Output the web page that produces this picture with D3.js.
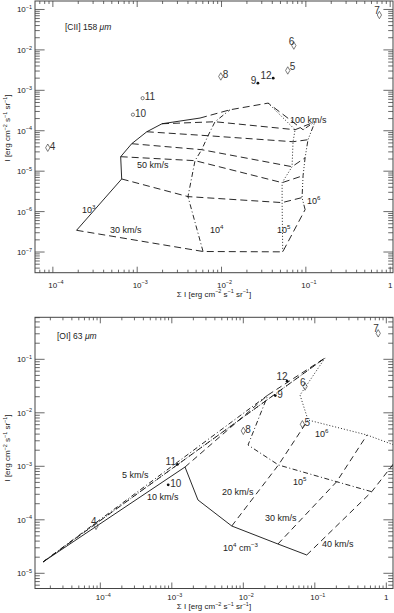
<!DOCTYPE html>
<html><head><meta charset="utf-8">
<script src="https://cdn.jsdelivr.net/npm/d3@7"></script>
<style>body{margin:0;background:#fff}svg{display:block}text{font-family:"Liberation Sans",Arial,Helvetica,sans-serif}</style>
</head><body>
<svg id="c" width="394" height="613"></svg>
<script>
// ---------- DATA ----------
// [CII] 158 um panel: observations
const ciiObsLabels = ["4","10","11","8","9","12","5","6","7"];
const ciiObsSumI   = [8.7e-5, 8.9e-4, 1.16e-3, 9.8e-3, 0.027, 0.041, 0.061, 0.072, 0.745];
const ciiObsI      = [3.8e-5, 2.5e-4, 6.4e-4, 2.2e-3, 1.5e-3, 2.0e-3, 3.1e-3, 0.0128, 0.073];
const ciiObsSymbol = ["diamond","circle","circle","diamond","dot","dot","diamond","diamond","diamond"];
const ciiObsLabelPlace = ["r","r","r","r","l","l","ru","lu","lu"];

// [CII] model grid: shock velocities (km/s) x pre-shock densities (cm^-3)
const ciiVelocities = [30, 40, 50, 60, 70, 80, 100];
const ciiDensities  = ["1e3","1e4","1e5","1e6"];
const ciiSumI_n3 = [1.91e-4, 6.55e-4, 6.37e-4, 8.61e-4, 1.30e-3, 1.97e-3, 5.56e-3];
const ciiI_n3    = [3.45e-7, 6.41e-6, 2.28e-5, 4.78e-5, 9.44e-5, 1.49e-4, 2.06e-4];
const ciiSumI_n4 = [6.04e-3, 4.0e-3, 4.85e-3, 5.82e-3, 6.92e-3, 8.37e-3, 0.0126];
const ciiI_n4    = [1.03e-7, 2.35e-6, 1.82e-5, 3.40e-5, 7.53e-5, 1.67e-4, 3.30e-4];
const ciiSumI_n5 = [0.0532, 0.0523, 0.0523, 0.0686, 0.0705, 0.0745, 0.0357];
const ciiI_n5    = [1.01e-7, 1.67e-6, 5.2e-6, 1.29e-5, 5.35e-5, 1.06e-4, 4.83e-4];
const ciiSumI_n6 = [0.098, 0.0901, 0.0927, 0.098, 0.106, 0.1285, 0.0927];
const ciiI_n6    = [1.12e-6, 2.22e-6, 7.74e-6, 2.15e-5, 6.0e-5, 1.67e-4, 1.06e-4];

// [CII] annotations (text, SumI, I, superscript)
const ciiNotes = [
  ["30 km/s", 4.75e-4, 3.03e-7, ""],
  ["50 km/s", 9.95e-4, 1.22e-5, ""],
  ["100 km/s", 0.065, 1.58e-4, ""],
  ["10", 2.21e-4, 9.4e-7, "3"],
  ["10", 7.3e-3, 3.03e-7, "4"],
  ["10", 0.0455, 3.03e-7, "5"],
  ["10", 0.103, 1.58e-6, "6"]
];

// [OI] 63 um panel: observations
const oiObsLabels = ["4","11","10","8","9","12","6","5","7"];
const oiObsSumI   = [8.7e-5, 1.2e-3, 8.9e-4, 0.010, 0.028, 0.041, 0.073, 0.067, 0.77];
const oiObsI      = [7.7e-5, 1.09e-3, 4.5e-4, 4.6e-3, 0.021, 0.039, 0.031, 6.1e-3, 0.306];
const oiObsSymbol = ["diamond","dot","dot","diamond","dot","dot","diamond","diamond","diamond"];
const oiObsLabelPlace = ["lu","l","r","r","r","lu","lu","r","lu"];

// [OI] model: density curves
const oiSumI_n4 = [1.58e-5, 1.53e-3, 2.32e-3, 6.89e-3, 0.0305, 0.0771];
const oiI_n4    = [1.63e-5, 9.7e-4, 2.35e-4, 7.66e-5, 3.53e-5, 2.2e-5];
const oiSumI_n5 = [1.58e-5, 0.0221, 0.01164, 0.031, 0.202, 0.625];
const oiI_n5    = [1.63e-5, 0.0215, 2.5e-3, 1.06e-3, 5.15e-4, 3.35e-4];
const oiSumI_n6 = [1.58e-5, 0.139, 0.0621, 0.0804, 0.537, 1.83];
const oiI_n6    = [1.63e-5, 0.106, 0.0215, 7.33e-3, 3.85e-3, 2.1e-3];
// [OI] model: velocity curves
const oiVelocities = [5, 10, 20, 30, 40];
const oiSumI_v = [
  [1.58e-5, 0.139],
  [1.53e-3, 0.0221, 0.139],
  [6.89e-3, 0.031, 0.0804],
  [0.0305, 0.202, 0.537],
  [0.0771, 0.625, 1.83]
];
const oiI_v = [
  [1.63e-5, 0.106],
  [9.7e-4, 0.0215, 0.106],
  [7.66e-5, 1.06e-3, 7.33e-3],
  [3.53e-5, 5.15e-4, 3.85e-3],
  [2.2e-5, 3.35e-4, 2.1e-3]
];
const oiNotes = [
  ["5 km/s", 2.01e-4, 6.04e-4, ""],
  ["10 km/s", 4.5e-4, 2.35e-4, ""],
  ["20 km/s", 5.04e-3, 2.91e-4, ""],
  ["30 km/s", 0.0201, 9.5e-5, ""],
  ["40 km/s", 0.126, 3.1e-5, ""],
  ["10", 5.2e-3, 2.61e-5, "4", " cm", "\u22123"],
  ["10", 0.0496, 4.48e-4, "5"],
  ["10", 0.1007, 3.53e-3, "6"]
];

// ---------- STYLE ----------
const FONT = 9;
const dashV = "7,4";
const dashN = {"1e3": null, "1e4": "5,2.5,1,2.5", "1e5": "1,2", "1e6": "5,2,1,2,1,2,1,2"};
const oiDashN = {n4: null, n5: "5,2.5,1,2.5", n6: "1,2"};

const svg = d3.select("#c");

function supLabel(g, x, y, base, sup, anchor, size, extraBase, extraSup) {
  const t = g.append("text").attr("x", x).attr("y", y)
    .attr("font-size", size).attr("fill", "#222").attr("text-anchor", anchor || "start");
  t.append("tspan").text(base);
  if (sup) t.append("tspan").attr("dy", -size*0.42).attr("font-size", size*0.68).text(sup);
  if (extraBase) t.append("tspan").attr("dy", size*0.42).text(extraBase);
  if (extraSup) t.append("tspan").attr("dy", -size*0.42).attr("font-size", size*0.68).text(extraSup);
  return t;
}

function makePanel(opts) {
  const x = d3.scaleLog().domain(opts.xDom).range([opts.x0, opts.x1]);
  const y = d3.scaleLog().domain(opts.yDom).range([opts.y1, opts.y0]);
  const g = svg.append("g");
  const id = "clip" + opts.name;
  svg.append("defs").append("clipPath").attr("id", id).append("rect")
    .attr("x", opts.x0).attr("y", opts.y0).attr("width", opts.x1-opts.x0).attr("height", opts.y1-opts.y0);

  g.append("rect").attr("x", opts.x0).attr("y", opts.y0)
    .attr("width", opts.x1-opts.x0).attr("height", opts.y1-opts.y0)
    .attr("fill", "none").attr("stroke", "#444").attr("stroke-width", 1);

  const ticks = (dom) => {
    const lo = Math.floor(Math.log10(dom[0])), hi = Math.ceil(Math.log10(dom[1]));
    const maj = [], min = [];
    for (let k = lo; k <= hi; k++) {
      const v = Math.pow(10, k);
      if (v >= dom[0] && v <= dom[1]) maj.push(k);
      for (let m = 2; m <= 9; m++) { const w = m*v; if (w >= dom[0] && w <= dom[1]) min.push(w); }
    }
    return {maj, min};
  };
  const tx = ticks(opts.xDom), ty = ticks(opts.yDom);
  const tg = g.append("g").attr("stroke", "#444").attr("stroke-width", 0.8);
  const ML = 6, ml = 3;
  tx.maj.forEach(k => { const px = x(Math.pow(10,k));
    tg.append("line").attr("x1",px).attr("x2",px).attr("y1",opts.y1).attr("y2",opts.y1-ML);
    tg.append("line").attr("x1",px).attr("x2",px).attr("y1",opts.y0).attr("y2",opts.y0+ML); });
  tx.min.forEach(v => { const px = x(v);
    tg.append("line").attr("x1",px).attr("x2",px).attr("y1",opts.y1).attr("y2",opts.y1-ml);
    tg.append("line").attr("x1",px).attr("x2",px).attr("y1",opts.y0).attr("y2",opts.y0+ml); });
  ty.maj.forEach(k => { const py = y(Math.pow(10,k));
    tg.append("line").attr("y1",py).attr("y2",py).attr("x1",opts.x0).attr("x2",opts.x0+ML*1.6);
    tg.append("line").attr("y1",py).attr("y2",py).attr("x1",opts.x1).attr("x2",opts.x1-ML*1.6); });
  ty.min.forEach(v => { const py = y(v);
    tg.append("line").attr("y1",py).attr("y2",py).attr("x1",opts.x0).attr("x2",opts.x0+ml*1.6);
    tg.append("line").attr("y1",py).attr("y2",py).attr("x1",opts.x1).attr("x2",opts.x1-ml*1.6); });

  tx.maj.forEach(k => {
    const px = x(Math.pow(10,k));
    if (k === 0) supLabel(g, px, opts.y1 + opts.xLabOff, "1", "", "middle", 8);
    else supLabel(g, px + 3, opts.y1 + opts.xLabOff, "10", "\u2212" + (-k), "middle", 8);
  });
  ty.maj.forEach(k => {
    const py = y(Math.pow(10,k));
    supLabel(g, opts.x0 - 3, py + 3, "10", "\u2212" + (-k), "end", 8);
  });

  const xt = supLabel(g, (opts.x0+opts.x1)/2, opts.y1 + opts.xTitleOff, "\u03A3 I [erg cm", "\u22122", "middle", 8, " s", "\u22121");
  xt.append("tspan").attr("dy", 8*0.42).text(" sr");
  xt.append("tspan").attr("dy", -8*0.42).attr("font-size", 8*0.68).text("\u22121");
  xt.append("tspan").attr("dy", 8*0.42).text("]");

  const yg = g.append("g").attr("transform", `translate(10,${opts.yTitleC}) rotate(-90)`);
  const yt = supLabel(yg, 0, 0, "I [erg cm", "\u22122", "middle", 8, " s", "\u22121");
  yt.append("tspan").attr("dy", 8*0.42).text(" sr");
  yt.append("tspan").attr("dy", -8*0.42).attr("font-size", 8*0.68).text("\u22121");
  yt.append("tspan").attr("dy", 8*0.42).text("]");

  const pt = g.append("text").attr("x", opts.titleX).attr("y", opts.titleY)
    .attr("font-size", 8.5).attr("fill", "#222");
  pt.append("tspan").text(opts.title);
  pt.append("tspan").attr("font-style", "italic").text(" \u03BCm");

  const plot = g.append("g").attr("clip-path", `url(#${id})`);
  return {x, y, g, plot};
}

const line = (x, y) => d3.line().x(d => x(d[0])).y(d => y(d[1]));

function drawObs(P, labels, sx, sy, sym, place) {
  labels.forEach((lab, i) => {
    const px = P.x(sx[i]), py = P.y(sy[i]);
    if (sym[i] === "diamond") {
      P.g.append("path").attr("d", d3.symbol(d3.symbolDiamond, 16)())
        .attr("transform", `translate(${px},${py})`)
        .attr("fill", "none").attr("stroke", "#444").attr("stroke-width", 0.7);
    } else if (sym[i] === "circle") {
      P.g.append("circle").attr("cx", px).attr("cy", py).attr("r", 1.6)
        .attr("fill", "none").attr("stroke", "#444").attr("stroke-width", 0.7);
    } else {
      P.g.append("circle").attr("cx", px).attr("cy", py).attr("r", 1.4).attr("fill", "#111");
    }
    const pl = place[i];
    let dx = 2, dy = 2, anc = "start";
    if (pl === "l") { dx = -1.5; dy = 1; anc = "end"; }
    if (pl === "ru") { dx = 2; dy = -0.5; }
    if (pl === "lu") { dx = 0.5; dy = -1; anc = "end"; }
    P.g.append("text").attr("x", px + dx).attr("y", py + dy)
      .attr("font-size", 10).attr("fill", "#333").attr("text-anchor", anc).text(lab);
  });
}

function drawNotes(P, notes) {
  notes.forEach(n => {
    supLabel(P.g, P.x(n[1]), P.y(n[2]), n[0], n[3], "start", FONT, n[4], n[5]);
  });
}

// ---------- TOP PANEL ----------
const T = makePanel({name:"t", xDom:[6.14e-5, 1.08], yDom:[3.08e-8, 0.162],
  x0:35, x1:393, y0:1, y1:272.7, xLabOff:15, xTitleOff:24, yTitleC:128,
  title:"[CII] 158", titleX:65, titleY:30});

const ciiSets = {"1e3":[ciiSumI_n3, ciiI_n3], "1e4":[ciiSumI_n4, ciiI_n4],
                 "1e5":[ciiSumI_n5, ciiI_n5], "1e6":[ciiSumI_n6, ciiI_n6]};
const lt = line(T.x, T.y);
ciiVelocities.forEach((v, i) => {
  const pts = ciiDensities.map(n => [ciiSets[n][0][i], ciiSets[n][1][i]]);
  T.plot.append("path").attr("d", lt(pts)).attr("fill","none")
    .attr("stroke","#111").attr("stroke-width",0.9).attr("stroke-dasharray", dashV);
});
ciiDensities.forEach(n => {
  const pts = ciiSets[n][0].map((s, i) => [s, ciiSets[n][1][i]]);
  const p = T.plot.append("path").attr("d", lt(pts)).attr("fill","none")
    .attr("stroke","#111").attr("stroke-width",0.9);
  if (dashN[n]) p.attr("stroke-dasharray", dashN[n]);
});
drawNotes(T, ciiNotes);
drawObs(T, ciiObsLabels, ciiObsSumI, ciiObsI, ciiObsSymbol, ciiObsLabelPlace);

// ---------- BOTTOM PANEL ----------
const B = makePanel({name:"b", xDom:[1.22e-5, 1.24], yDom:[5.2e-6, 0.61],
  x0:35, x1:393, y0:317.3, y1:588.5, xLabOff:11.5, xTitleOff:20.5, yTitleC:448,
  title:"[OI] 63", titleX:57, titleY:339});
const lb = line(B.x, B.y);
oiVelocities.forEach((v, i) => {
  const pts = oiSumI_v[i].map((s, j) => [s, oiI_v[i][j]]);
  B.plot.append("path").attr("d", lb(pts)).attr("fill","none")
    .attr("stroke","#111").attr("stroke-width",0.9).attr("stroke-dasharray", "6,4");
});
[["n4", oiSumI_n4, oiI_n4], ["n5", oiSumI_n5, oiI_n5], ["n6", oiSumI_n6, oiI_n6]].forEach(([k, sx, sy]) => {
  const pts = sx.map((s, i) => [s, sy[i]]);
  const p = B.plot.append("path").attr("d", lb(pts)).attr("fill","none")
    .attr("stroke","#111").attr("stroke-width",0.9);
  if (oiDashN[k]) p.attr("stroke-dasharray", oiDashN[k]);
});
drawNotes(B, oiNotes);
drawObs(B, oiObsLabels, oiObsSumI, oiObsI, oiObsSymbol, oiObsLabelPlace);
</script>
</body></html>
